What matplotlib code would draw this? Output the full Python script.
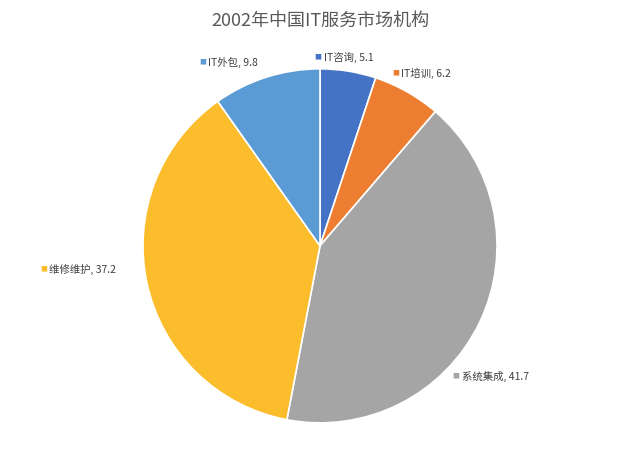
import matplotlib.pyplot as plt

plt.rcParams['font.family'] = ['Noto Sans CJK SC', 'DejaVu Sans']

categories = ["IT咨询", "IT培训", "系统集成", "维修维护", "IT外包"]
values = [5.1, 6.2, 41.7, 37.2, 9.8]
colors = ["#4472c4", "#ed7d31", "#a5a5a5", "#fbbd2c", "#5b9bd5"]

# label anchor positions (marker left edge), in units of the pie radius
label_pos = [(-0.03, 1.07), (0.41, 0.98), (0.75, -0.73), (-1.58, -0.13), (-0.68, 1.04)]

fig = plt.figure(figsize=(6.4, 4.64), dpi=100)
h = 0.763
w = h * 464 / 640
ax = fig.add_axes([0.5 - w / 2, 0.468 - h / 2, w, h])
wedges, _ = ax.pie(values, colors=colors, startangle=90, counterclock=False,
                   wedgeprops=dict(edgecolor="white", linewidth=1.2))
ax.set_aspect("equal")
ax.set_xlim(-1, 1)
ax.set_ylim(-1, 1)

for (x, y), cat, v, c in zip(label_pos, categories, values, colors):
    ax.text(x, y, "■", color=c, fontsize=5, ha="left", va="center", clip_on=False)
    ax.text(x + 0.05, y, f"{cat}, {v}", fontsize=7.5, color="#404040",
            ha="left", va="center", clip_on=False)

fig.text(0.5, 0.955, "2002年中国IT服务市场机构", ha="center", va="center",
         fontsize=13, color="#595959")
fig.savefig("out.png", dpi=100)
